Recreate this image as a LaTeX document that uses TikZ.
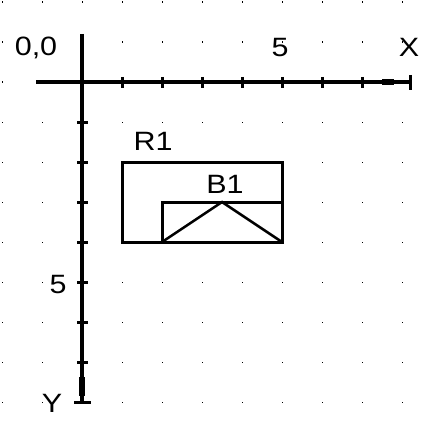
\documentclass[tikz,border=0pt]{standalone}
\usepackage{fontspec}
\setmainfont[FakeStretch=1.15]{Liberation Sans}
\usepackage{tikz}
\tikzset{
  lab/.style={font=\fontsize{26.5}{30}\selectfont, inner sep=0pt, anchor=base},
  axis/.style={line width=3.5pt, draw=black},
  tickmark/.style={line width=3pt},
  blob/.style={line width=6.5pt},
  box/.style={line width=3pt, draw=black},
  roof/.style={line width=2.5pt}
}
\begin{document}
\begin{tikzpicture}[x=1pt,y=-1pt]
\useasboundingbox (0,0) rectangle (440,441);
% grid dots
\foreach \i in {0,...,10}
  \foreach \j in {0,...,10}
    \fill (1.5+40*\i,1.5+40*\j) rectangle ++(1.2,1.2);

% axes
\coordinate (O) at (82,82);
\coordinate (xl) at (36,82);
\coordinate (xr) at (410,82);
\coordinate (yt) at (82,34);
\coordinate (yb) at (82,402);
\draw[axis] (xl) -- (xr);
\draw[axis] (yt) -- (yb);
\foreach \k in {1,...,7} {
  \draw[tickmark] (82+40*\k,77) -- (82+40*\k,88);
  \draw[tickmark] (77,82+40*\k) -- (88,82+40*\k);
}
\draw[tickmark] (410,75) -- (410,90);
\draw[tickmark] (74,402) -- (91,402);
\draw[blob] (382,82) -- (394,82);
\draw[blob] (82,377) -- (82,396);

\node[lab] (orig) at (36,56) {0,0};
\node[lab] (xfive) at (280,57) {5};
\node[lab] (xname) at (409,57) {X};
\node[lab] (yfive) at (58,293) {5};
\node[lab] (yname) at (52,412) {Y};

% rooms
\draw[box] (122,162) rectangle (282,242);
\draw[box] (162,202) rectangle (282,242);
\draw[roof] (162,242) -- (222,202) -- (282,242);
\node[lab] (rname) at (153,150) {R1};
\node[lab] (bname) at (225,193) {B1};
\end{tikzpicture}
\end{document}
